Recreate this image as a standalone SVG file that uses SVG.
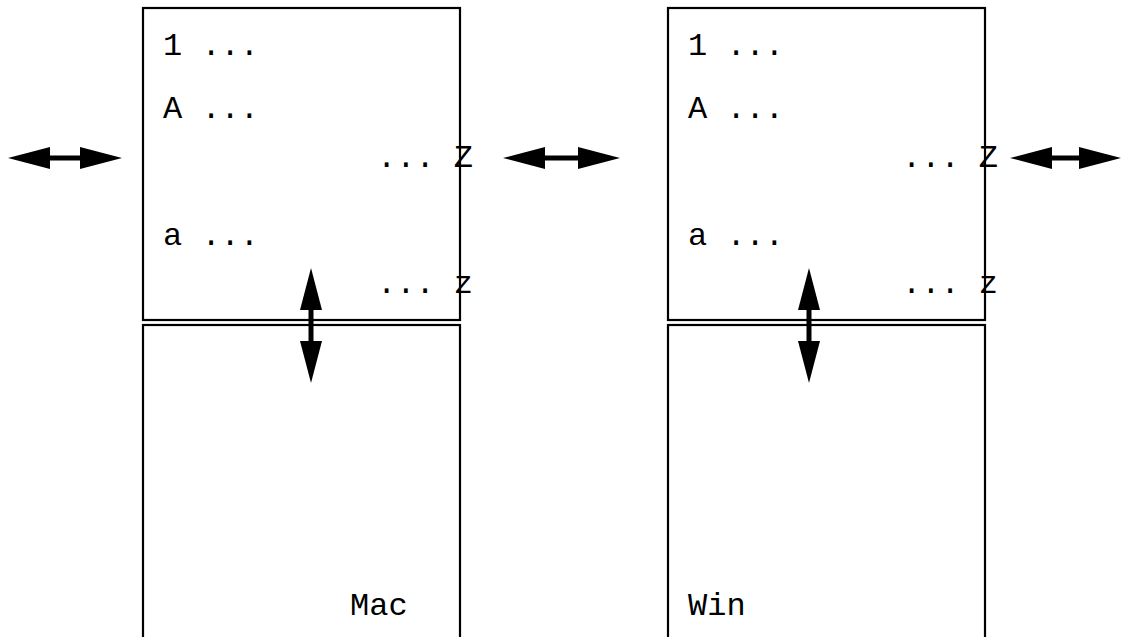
<svg xmlns="http://www.w3.org/2000/svg" width="1123" height="637" viewBox="0 0 1123 637">
<style>
.box{fill:none;stroke:#000;stroke-width:2.2}
.t{font-family:"Liberation Mono","Courier New",monospace;font-size:32px;fill:#000}
.c{stroke:#000;stroke-width:5;fill:none;marker-start:url(#ah);marker-end:url(#ah)}
</style>
<defs>
<marker id="ah" viewBox="0 0 42 22" markerWidth="42" markerHeight="22" refX="1" refY="11" orient="auto-start-reverse" markerUnits="userSpaceOnUse">
<path d="M0,0 L42,11 L0,22 z" fill="#000"/>
</marker>
</defs>
<rect width="1123" height="637" fill="#fff"/>
<g id="mac-top">
<rect class="box" x="143" y="8" width="317" height="312"/>
<text class="t" x="163" y="55">1 ...</text>
<text class="t" x="163" y="118">A ...</text>
<text class="t" x="377" y="167">... Z</text>
<text class="t" x="163" y="245">a ...</text>
<text class="t" x="377" y="293">... z</text>
</g>
<g id="mac-bottom">
<rect class="box" x="143" y="325" width="317" height="330"/>
<text class="t" x="350" y="615">Mac</text>
</g>
<g id="win-top">
<rect class="box" x="668" y="8" width="317" height="312"/>
<text class="t" x="688" y="55">1 ...</text>
<text class="t" x="688" y="118">A ...</text>
<text class="t" x="902" y="167">... Z</text>
<text class="t" x="688" y="245">a ...</text>
<text class="t" x="902" y="293">... z</text>
</g>
<g id="win-bottom">
<rect class="box" x="668" y="325" width="317" height="330"/>
<text class="t" x="688" y="615">Win</text>
</g>
<g id="connectors">
<line class="c" x1="49" y1="158" x2="81" y2="158"/>
<line class="c" x1="544" y1="158" x2="579" y2="158"/>
<line class="c" x1="1051" y1="158" x2="1080" y2="158"/>
<line class="c" x1="311" y1="309" x2="311" y2="342"/>
<line class="c" x1="809" y1="309" x2="809" y2="342"/>
</g>
</svg>
